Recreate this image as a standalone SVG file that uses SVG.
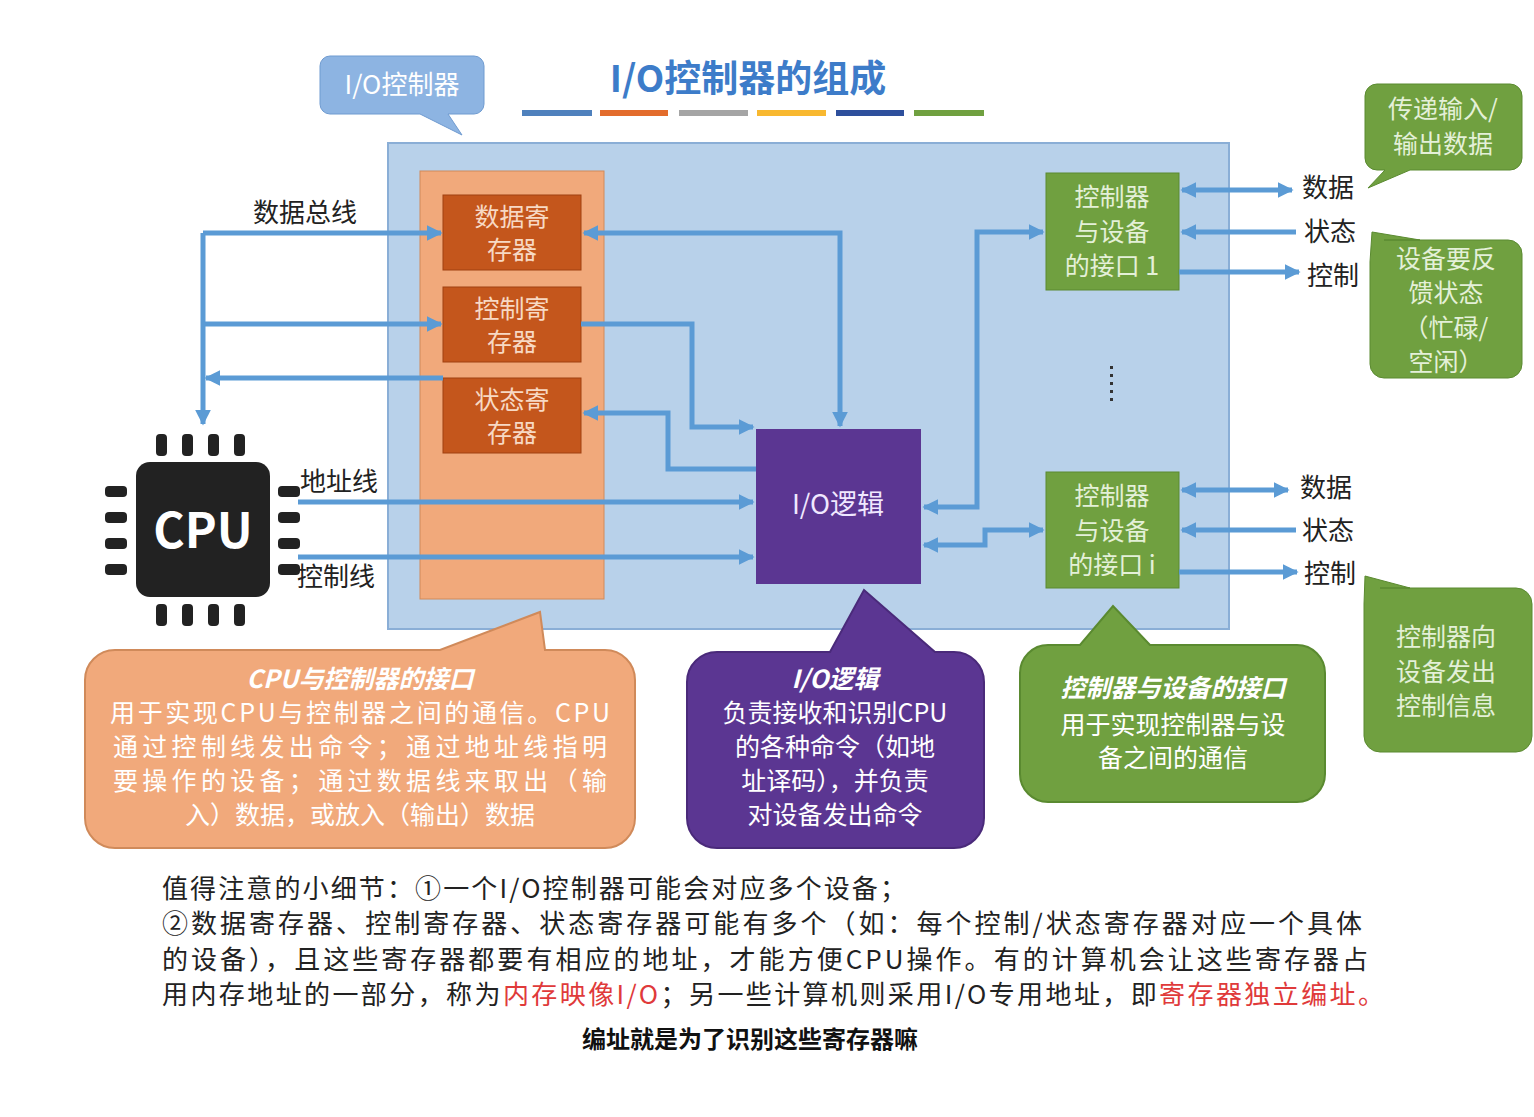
<svg xmlns="http://www.w3.org/2000/svg" width="1534" height="1117" viewBox="0 0 1534 1117">
<defs>
<marker id="ah" viewBox="0 0 10 10" refX="9" refY="5" markerWidth="3.2" markerHeight="3.2" orient="auto-start-reverse"><path d="M0,0L10,5L0,10z" fill="#5b9bd5"/></marker>
<style>
text{font-family:"Noto Sans CJK SC","Liberation Sans",sans-serif}
.c{stroke:#5b9bd5;stroke-width:5;fill:none;marker-end:url(#ah)}
.cb{stroke:#5b9bd5;stroke-width:5;fill:none;marker-end:url(#ah);marker-start:url(#ah)}
.reg{fill:#c4561c;stroke:#a04010}
.rt{fill:#f7d9c4;font-size:25px;text-anchor:middle}
.gt{fill:#e4f0d8;font-size:25px;text-anchor:middle}
.lab{fill:#222;font-size:26px}
.wt{fill:#fff;font-size:25px;text-anchor:middle}
.hd{fill:#fff;font-size:25px;text-anchor:middle;font-weight:bold;font-style:italic}
.pin{fill:#222}
.bt{fill:#222;font-size:26px}
.red{fill:#e03a3a}
</style>
</defs>
<rect width="1534" height="1117" fill="#fff"/>
<g id="title">
<text x="748" y="92" font-size="37" font-weight="bold" fill="#3d7cc9" text-anchor="middle">I/O控制器的组成</text>
<rect x="522" y="110" width="70" height="6" fill="#4f81bd"/><rect x="600" y="110" width="68" height="6" fill="#e36c2c"/><rect x="679" y="110" width="69" height="6" fill="#a5a5a5"/><rect x="757" y="110" width="69" height="6" fill="#f8b830"/><rect x="836" y="110" width="68" height="6" fill="#2e4f9c"/><rect x="914" y="110" width="70" height="6" fill="#70a040"/>
</g>
<g id="io-callout">
<path d="M330,56H474a10,10 0 0 1 10,10V104a10,10 0 0 1-10,10H448L462,135L420,114H330a10,10 0 0 1-10-10V66a10,10 0 0 1 10-10z" fill="#8db4e2" stroke="#6f9bd0"/>
<text x="402" y="94" font-size="26" fill="#fff" text-anchor="middle">I/O控制器</text>
</g>
<g id="controller"><rect x="388" y="143" width="841" height="486" fill="#b8d1ea" stroke="#8aaed6" stroke-width="2"/></g>
<g id="cpu-iface"><rect x="420" y="171" width="184" height="428" fill="#f1a97b" stroke="#d08a5a"/></g>
<g id="data-reg"><rect class="reg" x="443" y="195" width="138" height="75"/><text class="rt" x="512" y="226">数据寄</text><text class="rt" x="512" y="259">存器</text></g>
<g id="ctrl-reg"><rect class="reg" x="443" y="287" width="138" height="75"/><text class="rt" x="512" y="318">控制寄</text><text class="rt" x="512" y="351">存器</text></g>
<g id="stat-reg"><rect class="reg" x="443" y="378" width="138" height="75"/><text class="rt" x="512" y="409">状态寄</text><text class="rt" x="512" y="442">存器</text></g>
<g id="io-logic"><rect x="756" y="429" width="165" height="155" fill="#5b3692"/><text x="838" y="514" font-size="27" fill="#f0e8ff" text-anchor="middle">I/O逻辑</text></g>
<g id="iface1"><rect x="1046" y="173" width="133" height="117" fill="#70a040" stroke="#5a8a30"/><text class="gt" x="1112" y="206">控制器</text><text class="gt" x="1112" y="241">与设备</text><text class="gt" x="1112" y="275">的接口 1</text></g>
<g id="ifacei"><rect x="1046" y="472" width="133" height="116" fill="#70a040" stroke="#5a8a30"/><text class="gt" x="1112" y="505">控制器</text><text class="gt" x="1112" y="540">与设备</text><text class="gt" x="1112" y="574">的接口 i</text></g>
<g id="dots" fill="#333"><rect x="1110" y="366" width="3" height="3"/><rect x="1110" y="374" width="3" height="3"/><rect x="1110" y="382" width="3" height="3"/><rect x="1110" y="390" width="3" height="3"/><rect x="1110" y="398" width="3" height="3"/></g>
<g id="cpu">
<rect x="136" y="462" width="134" height="135" rx="14" fill="#222"/>
<text x="203" y="548" font-size="48" font-weight="bold" fill="#fff" text-anchor="middle" font-family="Liberation Sans,sans-serif">CPU</text>
<rect class="pin" x="156" y="434" width="11" height="22" rx="4"/><rect class="pin" x="182" y="434" width="11" height="22" rx="4"/><rect class="pin" x="208" y="434" width="11" height="22" rx="4"/><rect class="pin" x="234" y="434" width="11" height="22" rx="4"/>
<rect class="pin" x="156" y="604" width="11" height="22" rx="4"/><rect class="pin" x="182" y="604" width="11" height="22" rx="4"/><rect class="pin" x="208" y="604" width="11" height="22" rx="4"/><rect class="pin" x="234" y="604" width="11" height="22" rx="4"/>
<rect class="pin" x="105" y="486" width="22" height="11" rx="4"/><rect class="pin" x="105" y="512" width="22" height="11" rx="4"/><rect class="pin" x="105" y="538" width="22" height="11" rx="4"/><rect class="pin" x="105" y="564" width="22" height="11" rx="4"/>
<rect class="pin" x="278" y="486" width="22" height="11" rx="4"/><rect class="pin" x="278" y="512" width="22" height="11" rx="4"/><rect class="pin" x="278" y="538" width="22" height="11" rx="4"/><rect class="pin" x="278" y="564" width="22" height="11" rx="4"/>
</g>
<g id="connectors">
<path class="c" d="M203,233V424"/>
<path class="c" d="M203,233H441"/>
<path class="c" d="M203,324H441"/>
<path class="c" d="M443,378H206"/>
<path class="cb" d="M584,233H840V426"/>
<path class="c" d="M581,324H692V427H753"/>
<path class="c" d="M756,469H668V413H584"/>
<path class="c" d="M298,502H753"/>
<path class="c" d="M298,557H753"/>
<path class="cb" d="M924,507H977V232H1043"/>
<path class="cb" d="M924,545H985V530H1043"/>
<path class="cb" d="M1182,190H1292"/>
<path class="c" d="M1296,232H1182"/>
<path class="c" d="M1179,272H1299"/>
<path class="cb" d="M1182,490H1288"/>
<path class="c" d="M1296,530H1182"/>
<path class="c" d="M1179,572H1297"/>
</g>
<g id="labels">
<text class="lab" x="253" y="222">数据总线</text>
<text class="lab" x="300" y="491">地址线</text>
<text class="lab" x="297" y="586">控制线</text>
<text class="lab" x="1302" y="197">数据</text><text class="lab" x="1304" y="241">状态</text><text class="lab" x="1307" y="285">控制</text>
<text class="lab" x="1300" y="497">数据</text><text class="lab" x="1302" y="540">状态</text><text class="lab" x="1304" y="583">控制</text>
</g>
<g id="note-data">
<path d="M1377,84H1510a12,12 0 0 1 12,12V158a12,12 0 0 1-12,12H1410L1368,188L1385,170H1377a12,12 0 0 1-12-12V96a12,12 0 0 1 12-12z" fill="#70a040" stroke="#5a8a30"/>
<text class="gt" x="1443" y="118">传递输入/</text><text class="gt" x="1443" y="153">输出数据</text>
</g>
<g id="note-state">
<path d="M1384,240H1508a14,14 0 0 1 14,14V364a14,14 0 0 1-14,14H1384a14,14 0 0 1-14-14V262L1372,232L1420,240z" fill="#70a040" stroke="#5a8a30"/>
<text class="gt" x="1446" y="268">设备要反</text><text class="gt" x="1446" y="302">馈状态</text><text class="gt" x="1446" y="337">（忙碌/</text><text class="gt" x="1446" y="371">空闲）</text>
</g>
<g id="note-ctrl">
<path d="M1380,588H1516a16,16 0 0 1 16,16V736a16,16 0 0 1-16,16H1380a16,16 0 0 1-16-16V604L1365,576L1410,588z" fill="#70a040" stroke="#5a8a30"/>
<text class="gt" x="1446" y="646">控制器向</text><text class="gt" x="1446" y="681">设备发出</text><text class="gt" x="1446" y="715">控制信息</text>
</g>
<g id="note-cpu">
<path d="M115,650H440L540,612L545,650H605a30,30 0 0 1 30,30V818a30,30 0 0 1-30,30H115a30,30 0 0 1-30-30V680a30,30 0 0 1 30-30z" fill="#f1a97b" stroke="#d08a5a" stroke-width="2"/>
<text class="hd" x="360" y="688">CPU与控制器的接口</text>
<text class="wt" x="360" y="722" textLength="500">用于实现CPU与控制器之间的通信。CPU</text>
<text class="wt" x="360" y="756" textLength="494">通过控制线发出命令；通过地址线指明</text>
<text class="wt" x="360" y="790" textLength="494">要操作的设备；通过数据线来取出（输</text>
<text class="wt" x="360" y="824">入）数据，或放入（输出）数据</text>
</g>
<g id="note-io">
<path d="M717,652H830L864,590L935,652H954a30,30 0 0 1 30,30V818a30,30 0 0 1-30,30H717a30,30 0 0 1-30-30V682a30,30 0 0 1 30-30z" fill="#5b3692" stroke="#4a2a7a" stroke-width="2"/>
<text class="hd" x="835" y="688">I/O逻辑</text>
<text class="wt" x="835" y="722">负责接收和识别CPU</text>
<text class="wt" x="835" y="756">的各种命令（如地</text>
<text class="wt" x="835" y="790">址译码），并负责</text>
<text class="wt" x="835" y="824">对设备发出命令</text>
</g>
<g id="note-dev">
<path d="M1048,645H1080L1113,606L1150,645H1297a28,28 0 0 1 28,28V774a28,28 0 0 1-28,28H1048a28,28 0 0 1-28-28V673a28,28 0 0 1 28-28z" fill="#70a040" stroke="#5a8a30" stroke-width="2"/>
<text class="hd" x="1173" y="697">控制器与设备的接口</text>
<text class="wt" x="1173" y="734">用于实现控制器与设</text>
<text class="wt" x="1173" y="767">备之间的通信</text>
</g>
<g id="bottom-text">
<text class="bt" x="162" y="898" textLength="744">值得注意的小细节：①一个I/O控制器可能会对应多个设备；</text>
<text class="bt" x="162" y="933" textLength="1200">②数据寄存器、控制寄存器、状态寄存器可能有多个（如：每个控制/状态寄存器对应一个具体</text>
<text class="bt" x="162" y="969" textLength="1206">的设备），且这些寄存器都要有相应的地址，才能方便CPU操作。有的计算机会让这些寄存器占</text>
<text class="bt" x="162" y="1004" textLength="1222">用内存地址的一部分，称为<tspan class="red">内存映像I/O</tspan>；另一些计算机则采用I/O专用地址，即<tspan class="red">寄存器独立编址。</tspan></text>
<text x="750" y="1048" font-size="24" font-weight="bold" fill="#111" text-anchor="middle">编址就是为了识别这些寄存器嘛</text>
</g>
</svg>
